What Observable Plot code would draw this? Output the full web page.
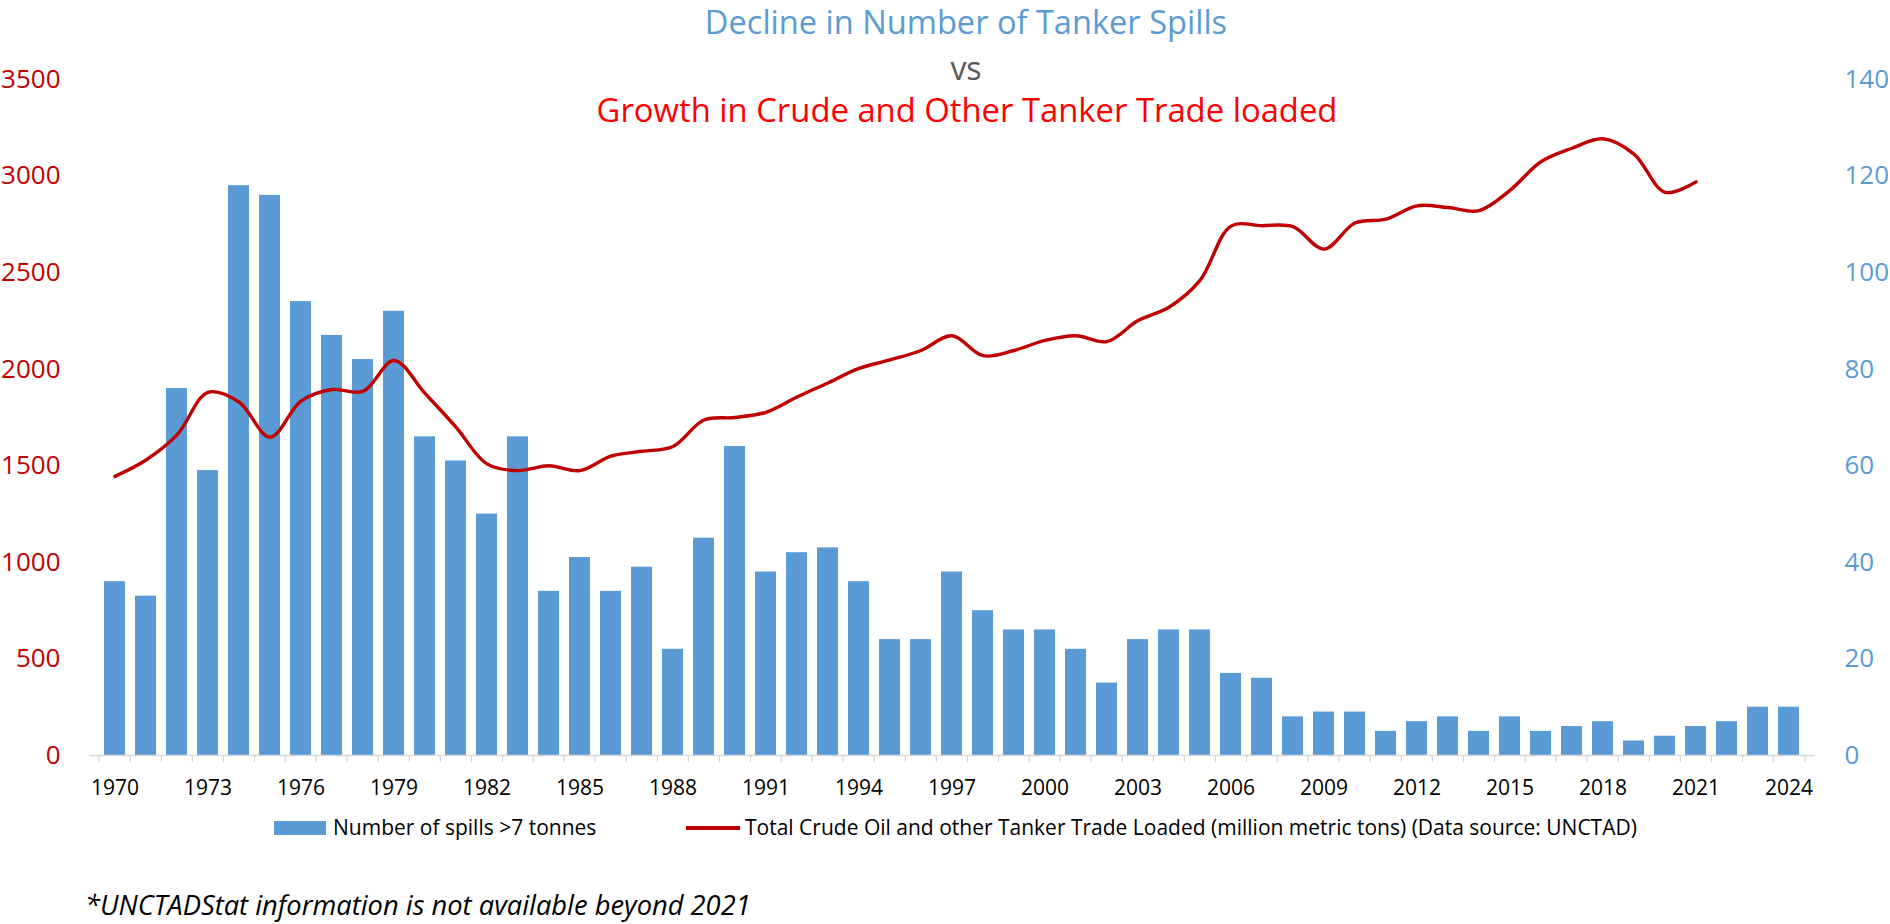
<!DOCTYPE html>
<html>
<head>
<meta charset="utf-8">
<script src="https://cdn.jsdelivr.net/npm/d3@7"></script>
<script src="https://cdn.jsdelivr.net/npm/@observablehq/plot@0.6"></script>
<style>
html, body { margin: 0; padding: 0; background: #fff; }
#wrap { position: relative; width: 1890px; height: 924px; font-family: "Open Sans", sans-serif; overflow: hidden; }
#wrap svg { position: absolute; left: 0; top: 0; }
.t { position: absolute; white-space: nowrap; line-height: 1; }
</style>
</head>
<body>
<div id="wrap"></div>
<script>
// ---- data ----
const years = [1970,1971,1972,1973,1974,1975,1976,1977,1978,1979,
  1980,1981,1982,1983,1984,1985,1986,1987,1988,1989,
  1990,1991,1992,1993,1994,1995,1996,1997,1998,1999,
  2000,2001,2002,2003,2004,2005,2006,2007,2008,2009,
  2010,2011,2012,2013,2014,2015,2016,2017,2018,2019,
  2020,2021,2022,2023,2024];
const spills = [36,33,76,59,118,116,94,87,82,92,
  66,61,50,66,34,41,34,39,22,45,
  64,38,42,43,36,24,24,38,30,26,
  26,22,15,24,26,26,17,16,8,9,
  9,5,7,8,5,8,5,6,7,3,
  4,6,7,10,10];
const tradeYears = years.slice(0, 52); // 1970..2021
const trade = [1445,1530,1660,1880,1830,1648,1835,1895,1885,2045,
  1875,1700,1510,1475,1500,1475,1550,1575,1600,1737,
  1750,1777,1856,1929,2004,2048,2097,2173,2070,2097,
  2149,2173,2143,2252,2321,2460,2741,2743,2738,2622,
  2757,2777,2846,2837,2821,2926,3074,3144,3193,3114,
  2916,2970];
const leftTicks = [0,500,1000,1500,2000,2500,3000,3500];
const rightTicks = [0,20,40,60,80,100,120,140];
const xTickLabels = [1970,1973,1976,1979,1982,1985,1988,1991,1994,1997,2000,2003,2006,2009,2012,2015,2018,2021,2024];

const titleLine1 = "Decline in Number of Tanker Spills";
const titleLine2 = "vs";
const titleLine3 = "Growth in Crude and Other Tanker Trade loaded";
const legendBar = "Number of spills >7 tonnes";
const legendLine = "Total Crude Oil and other Tanker Trade Loaded (million metric tons) (Data source: UNCTAD)";
const footnote = "*UNCTADStat information is not available beyond 2021";

// ---- build ----
const spillData = years.map((y, i) => ({year: y, value: spills[i]}));
const tradeData = tradeYears.map((y, i) => ({year: y, value: trade[i]}));
const ratio = leftTicks[leftTicks.length - 1] / rightTicks[rightTicks.length - 1];

const W = 1890, H = 924, mL = 89, mR = 75, mT = 79, mB = 169;
const step = (W - mL - mR) / years.length;
const BLUE = "#5B9BD5", DARKRED = "#C00000", GRID = "#D9D9D9";

const chart = Plot.plot({
  width: W, height: H,
  marginLeft: mL, marginRight: mR, marginTop: mT, marginBottom: mB,
  style: {fontFamily: '"Open Sans", sans-serif', background: "transparent", overflow: "visible"},
  x: {type: "band", domain: years, paddingInner: 0.31, paddingOuter: 0.155},
  y: {domain: [rightTicks[0], rightTicks[rightTicks.length - 1]]},
  marks: [
    Plot.ruleX(years, {x: d => d, y1: () => 0, y2: () => 0, dx: -step / 2, insetTop: 0, insetBottom: -7, stroke: GRID, strokeWidth: 1.3}),
    Plot.ruleX([years[years.length - 1]], {x: d => d, y1: () => 0, y2: () => 0, dx: step / 2, insetTop: 0, insetBottom: -7, stroke: GRID, strokeWidth: 1.3}),
    Plot.barY(spillData, {x: "year", y: "value", fill: BLUE}),
    Plot.ruleY([0], {stroke: GRID, strokeWidth: 1.3}),
    Plot.line(tradeData, {x: "year", y: d => d.value / ratio, stroke: DARKRED, strokeWidth: 3.4, curve: "catmull-rom"}),
    Plot.axisY(leftTicks.map(d => d / ratio), {anchor: "left", tickSize: 0, tickPadding: 29, tickFormat: (d, i) => String(leftTicks[i]), color: DARKRED, fontSize: 26, label: null}),
    Plot.axisY(rightTicks, {anchor: "right", tickSize: 0, tickPadding: 29, tickFormat: d => String(d), color: BLUE, fontSize: 26, label: null}),
    Plot.axisX(xTickLabels, {anchor: "bottom", tickSize: 0, tickPadding: 25, tickFormat: d => String(d), color: "#000", fontSize: 21, label: null})
  ]
});

const wrap = document.getElementById("wrap");
wrap.appendChild(chart);

function addText(str, {x, baseline, size, color, anchor = "start", italic = false}) {
  const d = document.createElement("div");
  d.className = "t";
  d.textContent = str;
  d.style.fontSize = size + "px";
  d.style.color = color;
  d.style.top = (baseline - 0.888 * size) + "px";
  d.style.left = x + "px";
  if (italic) d.style.fontStyle = "italic";
  if (anchor === "middle") d.style.transform = "translateX(-50%)";
  wrap.appendChild(d);
  return d;
}
function addSwatch(x, y, w, h, color) {
  const d = document.createElement("div");
  d.style.position = "absolute";
  d.style.left = x + "px"; d.style.top = y + "px";
  d.style.width = w + "px"; d.style.height = h + "px";
  d.style.background = color;
  wrap.appendChild(d);
}

// titles
addText(titleLine1, {x: 966, baseline: 35, size: 32.6, color: BLUE, anchor: "middle"});
addText(titleLine2, {x: 966, baseline: 80, size: 32, color: "#595959", anchor: "middle"});
addText(titleLine3, {x: 967, baseline: 123, size: 32.8, color: "#FF0000", anchor: "middle"});

// legend
addSwatch(274, 821, 52, 14, BLUE);
addText(legendBar, {x: 333, baseline: 835.5, size: 21, color: "#000"});
addSwatch(686, 826.3, 54, 3.4, DARKRED);
addText(legendLine, {x: 745, baseline: 835.5, size: 21, color: "#000"});

// footnote
addText(footnote, {x: 85, baseline: 915, size: 27.3, color: "#000", italic: true});
</script>
</body>
</html>
